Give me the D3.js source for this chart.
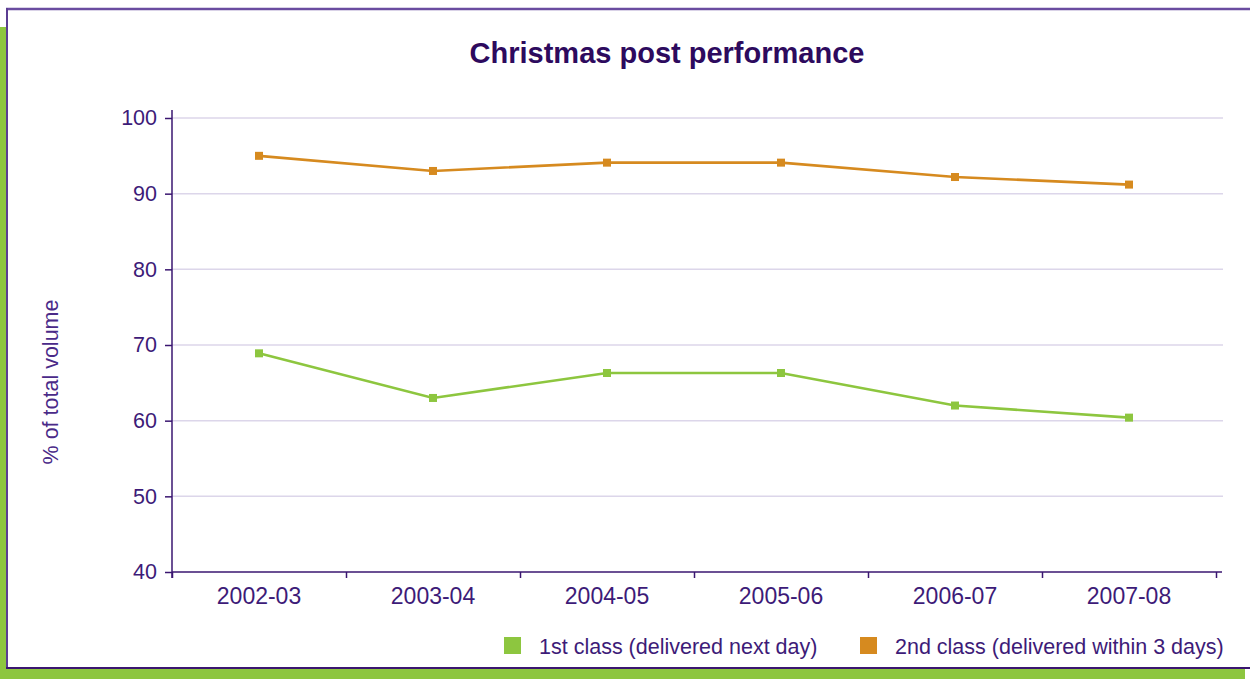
<!DOCTYPE html>
<html>
<head>
<meta charset="utf-8">
<script src="https://cdn.jsdelivr.net/npm/d3@7"></script>
<style>
  html, body { margin: 0; padding: 0; background: #ffffff; }
  svg { display: block; font-family: "Liberation Sans", Arial, sans-serif; }
</style>
</head>
<body>
<svg id="chart" width="1250" height="679"></svg>
<script>
// Chart data
const years = ["2002-03", "2003-04", "2004-05", "2005-06", "2006-07", "2007-08"];
const firstClass = [68.9, 63.0, 66.3, 66.3, 62.0, 60.4];
const secondClass = [95.0, 93.0, 94.1, 94.1, 92.2, 91.2];
const yTicks = [40, 50, 60, 70, 80, 90, 100];
const seriesNames = ["1st class (delivered next day)", "2nd class (delivered within 3 days)"];

const COLORS = { first: "#8dc63f", second: "#d68a1f" };
const INK = "#3d1b78";
const AXIS = "#3a1670";

const svg = d3.select("#chart");

// Frame: green strips on the left and bottom, purple-edged white panel
svg.append("rect").attr("x", 0).attr("y", 27).attr("width", 7).attr("height", 652).attr("fill", "#8dc63f");
svg.append("rect").attr("x", 0).attr("y", 669).attr("width", 1245).attr("height", 10).attr("fill", "#8dc63f");
svg.append("rect").attr("x", 7).attr("y", 9).attr("width", 1250).attr("height", 659).attr("fill", "#ffffff");
svg.append("line").attr("x1", 6).attr("x2", 1250).attr("y1", 9).attr("y2", 9)
  .attr("stroke", "#6a4ca0").attr("stroke-width", 2.5);
svg.append("line").attr("x1", 7).attr("x2", 7).attr("y1", 8).attr("y2", 669)
  .attr("stroke", "#5b3d92").attr("stroke-width", 2);
svg.append("line").attr("x1", 6).attr("x2", 1250).attr("y1", 668).attr("y2", 668)
  .attr("stroke", "#3a1670").attr("stroke-width", 2);

// Title
svg.append("text")
  .attr("x", 667).attr("y", 63)
  .attr("text-anchor", "middle")
  .attr("font-size", 29).attr("font-weight", "bold")
  .attr("fill", "#2d0a5e")
  .text("Christmas post performance");

// Scales
const plotLeft = 172, plotRight = 1216, plotTop = 118, plotBottom = 572;
const x = d3.scaleBand().domain(years).range([plotLeft, plotRight]).padding(0);
const xEdges = d3.scaleLinear().domain([0, years.length]).range([plotLeft, plotRight]);
const y = d3.scaleLinear().domain([40, 100]).range([plotBottom, plotTop]);
const cx = d => x(d) + x.bandwidth() / 2;

// Horizontal gridlines
svg.append("g").selectAll("line")
  .data(yTicks.filter(t => t > 40))
  .join("line")
  .attr("x1", plotLeft).attr("x2", 1223)
  .attr("y1", d => y(d)).attr("y2", d => y(d))
  .attr("stroke", "#dcd6ea").attr("stroke-width", 1.5);

// Y axis
const yAxis = svg.append("g")
  .attr("transform", `translate(${plotLeft},0)`)
  .call(d3.axisLeft(y).tickValues(yTicks).tickSize(7).tickPadding(8));
yAxis.select(".domain").remove();
yAxis.selectAll(".tick line").attr("stroke", AXIS).attr("stroke-width", 1.5);
yAxis.selectAll(".tick text")
  .attr("font-size", 21.5).attr("fill", INK)
  .attr("font-family", "Liberation Sans, Arial, sans-serif");
svg.append("line")
  .attr("x1", plotLeft).attr("x2", plotLeft)
  .attr("y1", y(100) - 8).attr("y2", y(40) + 6)
  .attr("stroke", AXIS).attr("stroke-width", 1.5);

// X axis: boundary ticks and centred category labels
const xTickAxis = svg.append("g")
  .attr("transform", `translate(0,${plotBottom})`)
  .call(d3.axisBottom(xEdges).tickValues(d3.range(0, years.length + 1)).tickSize(6).tickFormat(""));
xTickAxis.select(".domain").remove();
xTickAxis.selectAll(".tick line").attr("stroke", AXIS).attr("stroke-width", 1.5);
svg.append("line")
  .attr("x1", plotLeft).attr("x2", 1222)
  .attr("y1", plotBottom).attr("y2", plotBottom)
  .attr("stroke", AXIS).attr("stroke-width", 1.5);

const xLabels = svg.append("g")
  .attr("transform", `translate(0,${plotBottom})`)
  .call(d3.axisBottom(x).tickSize(0));
xLabels.select(".domain").remove();
xLabels.selectAll(".tick text")
  .attr("y", 32).attr("dy", 0)
  .attr("font-size", 23).attr("fill", INK)
  .attr("font-family", "Liberation Sans, Arial, sans-serif");

// Y axis title
svg.append("text")
  .attr("transform", "translate(58,382) rotate(-90)")
  .attr("text-anchor", "middle")
  .attr("font-size", 21.5).attr("fill", "#4a2a88")
  .text("% of total volume");

// Series lines and square markers
const series = [
  { values: firstClass, color: COLORS.first },
  { values: secondClass, color: COLORS.second }
];
const line = d3.line().x((d, i) => cx(years[i])).y(d => y(d));
series.forEach(s => {
  svg.append("path")
    .attr("d", line(s.values))
    .attr("fill", "none")
    .attr("stroke", s.color)
    .attr("stroke-width", 2.6);
  svg.append("g").selectAll("rect")
    .data(s.values)
    .join("rect")
    .attr("x", (d, i) => cx(years[i]) - 4)
    .attr("y", d => y(d) - 4)
    .attr("width", 8).attr("height", 8)
    .attr("fill", s.color);
});

// Legend
const legendItems = [
  { name: seriesNames[0], color: COLORS.first, x: 504 },
  { name: seriesNames[1], color: COLORS.second, x: 860 }
];
const legend = svg.append("g");
legendItems.forEach(item => {
  legend.append("rect")
    .attr("x", item.x).attr("y", 637)
    .attr("width", 17).attr("height", 17)
    .attr("fill", item.color);
  legend.append("text")
    .attr("x", item.x + 35).attr("y", 654)
    .attr("font-size", 21.5).attr("fill", INK)
    .text(item.name);
});
</script>
</body>
</html>
